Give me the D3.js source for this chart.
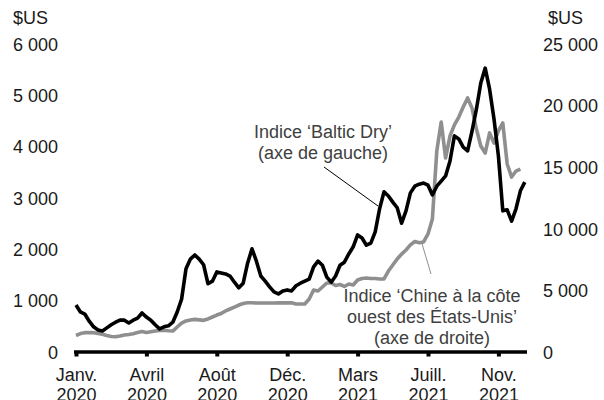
<!DOCTYPE html>
<html><head><meta charset="utf-8">
<script src="https://cdn.jsdelivr.net/npm/d3@7/dist/d3.min.js"></script>
<style>
body{margin:0;background:#fff;}
text{font-family:"Liberation Sans",Arial,sans-serif;}
</style></head>
<body><svg id="c" width="604" height="400"></svg>
<script>
// Weekly data, Jan 2020 – Dec 2021
const balticDry = [915,780,740,600,490,430,410,470,530,580,620,620,565,620,660,760,680,620,530,450,
490,510,580,780,1030,1620,1810,1890,1810,1700,1330,1380,1560,1540,1520,1480,1360,1250,1340,1730,
2010,1770,1480,1380,1270,1170,1130,1190,1210,1190,1290,1340,1380,1420,1660,1770,1690,1460,1360,1480,
1690,1750,1910,2050,2280,2220,2080,2120,2340,2790,3120,3040,2920,2810,2510,2750,3100,3230,3270,3290,
3250,3060,3230,3330,3430,3720,4210,4150,3990,3920,4300,4730,5240,5530,5120,4540,3820,2750,2770,2550,
2790,3140,3310];
const chinaUSWest = [1340,1500,1570,1570,1570,1500,1440,1340,1260,1240,1300,1380,1420,1490,1580,1660,1580,1640,1700,1750,
1760,1720,1700,2030,2350,2520,2600,2650,2610,2570,2680,2840,3000,3130,3330,3490,3650,3810,3940,4000,
4000,3980,3980,3980,3980,3980,3990,3990,3990,3990,3900,3900,3900,4300,5030,4950,5280,5600,5600,5400,
5480,5320,5520,5440,5840,5970,6010,5970,5970,5930,5930,6570,7060,7550,7950,8280,8690,8970,8870,8930,
9580,10800,16320,18670,15750,17530,18430,19070,19890,20620,19810,18100,16720,16150,17780,16960,17940,18590,15260,14200,
14690,14850,null];
const tickWeeks = [0,16,32,48,64,80,96];
const tickMonths = ["Janv.","Avril","Août","Déc.","Mars","Juill.","Nov."];
const tickYears = ["2020","2020","2020","2020","2021","2021","2021"];
const leftTicks = [0,1000,2000,3000,4000,5000,6000];
const rightTicks = [0,5000,10000,15000,20000,25000];
const unitLabel = "$US";
const labelBaltic = ["Indice ‘Baltic Dry’","(axe de gauche)"];
const labelChina = ["Indice ‘Chine à la côte","ouest des États-Unis’","(axe de droite)"];

const svg = d3.select("#c");
const fmt = d3.formatLocale({thousands:"\u00a0",grouping:[3],decimal:",",currency:["","$"]}).format(",");

const x = d3.scaleLinear().domain([0, balticDry.length-1]).range([76, 524.8]);
const yL = d3.scaleLinear().domain([0,6000]).range([352,44]);
const yR = d3.scaleLinear().domain([0,25000]).range([352,44]);

const txtCol = "#1a1a1a", annCol = "#404040";

// left axis
const gL = svg.append("g").attr("transform","translate(58,0)")
  .call(d3.axisLeft(yL).tickValues(leftTicks).tickSize(0).tickPadding(0).tickFormat(fmt));
gL.select(".domain").remove();
gL.selectAll("text").attr("font-size",18).attr("fill",txtCol).attr("font-family","Liberation Sans, Arial").attr("dy","0.35em");
svg.append("text").attr("x",13).attr("y",24).attr("font-size",18).attr("fill",txtCol).text(unitLabel);

// right axis
const gR = svg.append("g").attr("transform","translate(543,0)")
  .call(d3.axisRight(yR).tickValues(rightTicks).tickSize(0).tickPadding(0).tickFormat(fmt));
gR.select(".domain").remove();
gR.selectAll("text").attr("font-size",18).attr("fill",txtCol).attr("font-family","Liberation Sans, Arial").attr("dy","0.35em");
svg.append("text").attr("x",548).attr("y",24).attr("font-size",18).attr("fill",txtCol).text(unitLabel);

// lines
const lineR = d3.line().defined(d=>d!=null).x((d,i)=>x(i)).y(d=>yR(d));
const lineL = d3.line().defined(d=>d!=null).x((d,i)=>x(i)).y(d=>yL(d));
svg.append("path").datum(chinaUSWest).attr("d",lineR).attr("fill","none")
  .attr("stroke","#8f8f8f").attr("stroke-width",3.6).attr("stroke-linejoin","round");
svg.append("path").datum(balticDry).attr("d",lineL).attr("fill","none")
  .attr("stroke","#000").attr("stroke-width",3.6).attr("stroke-linejoin","round");

// x axis
const gX = svg.append("g").attr("transform","translate(0,352)")
  .call(d3.axisBottom(x).tickValues(tickWeeks).tickSize(0).tickFormat(""));
gX.select(".domain").remove();
svg.append("line").attr("x1",74).attr("x2",527).attr("y1",352).attr("y2",352)
  .attr("stroke","#000").attr("stroke-width",3.5);
gX.selectAll(".tick").append("rect").attr("x",-2).attr("y",0).attr("width",4).attr("height",4.5).attr("fill","#000");
gX.selectAll(".tick").each(function(d,i){
  const t = d3.select(this).append("text").attr("text-anchor","middle").attr("font-size",18).attr("fill",txtCol)
    .attr("font-family","Liberation Sans, Arial");
  t.append("tspan").attr("x",0).attr("y",29).text(tickMonths[i]);
  t.append("tspan").attr("x",0).attr("y",49).text(tickYears[i]);
});

// annotations
svg.append("line").attr("x1",324).attr("y1",167).attr("x2",378).attr("y2",206)
  .attr("stroke","#000").attr("stroke-width",1);
const a1 = svg.append("text").attr("text-anchor","middle").attr("font-size",18).attr("fill",annCol);
labelBaltic.forEach((s,i)=>a1.append("tspan").attr("x",323).attr("y",138+21*i).text(s));

svg.append("line").attr("x1",421.5).attr("y1",242).attr("x2",431).attr("y2",274)
  .attr("stroke","#8f8f8f").attr("stroke-width",1);
const a2 = svg.append("text").attr("text-anchor","middle").attr("font-size",18).attr("fill",annCol);
labelChina.forEach((s,i)=>a2.append("tspan").attr("x",432).attr("y",302+21*i).text(s));
</script></body></html>
